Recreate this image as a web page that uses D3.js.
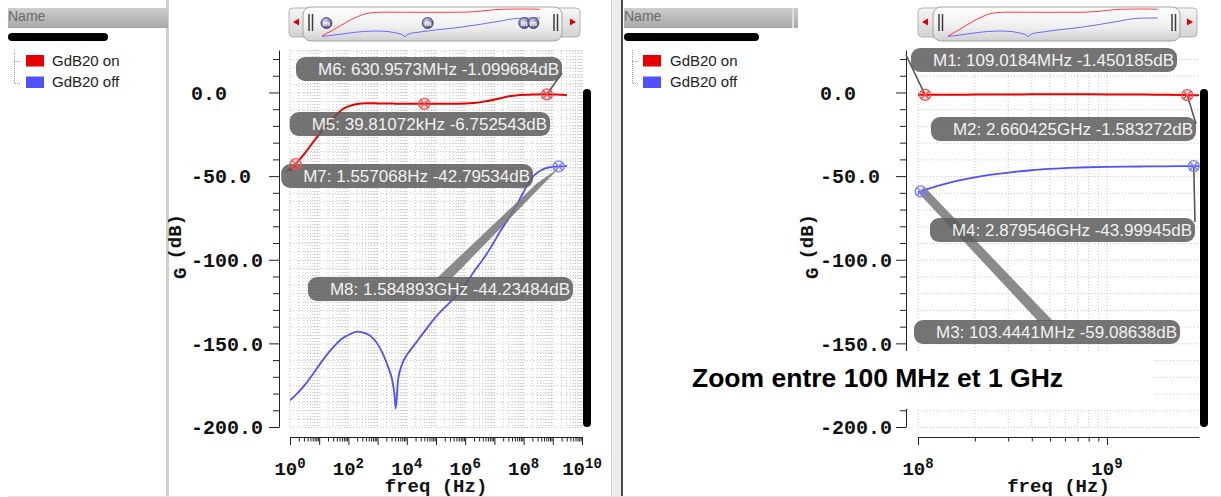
<!DOCTYPE html>
<html><head><meta charset="utf-8">
<script src="https://cdn.jsdelivr.net/npm/d3@7"></script>
<style>
html,body{margin:0;padding:0;background:#fff;}
svg{display:block;}
</style>
</head><body>
<svg id="c" width="1221" height="497"></svg>
<script>
// ---------------- DATA ----------------
const freqHz = [1, 1.557, 3.16, 6.31, 10, 20, 31.6, 63.1, 100, 200, 398, 794, 1585, 2512, 3162, 3800, 4169, 5012, 7079,
  1e4, 2e4, 3.981e4, 1e5, 3.162e5, 1e6, 2e6, 3.98e6, 7.94e6, 1.585e7, 3.162e7, 6.31e7,
  1e8, 1.034e8, 1.09e8, 1.26e8, 1.585e8, 2e8, 2.512e8, 3.162e8, 3.98e8, 5.01e8, 6.31e8, 7.94e8,
  1e9, 1.259e9, 1.585e9, 2e9, 2.512e9, 2.66e9, 2.88e9, 3.07e9];
const gainOn = [-47, -42.8, -36.5, -29.5, -25, -18.5, -15, -10, -8.3, -6.9, -6.5, -6.5, -6.6, -6.6, -6.6, -6.7, -6.7, -6.7, -6.7,
  -6.7, -6.75, -6.75, -6.7, -6.7, -6.6, -6.3, -5.6, -4.7, -3.5, -2.3, -1.6,
  -1.42, -1.43, -1.45, -1.40, -1.32, -1.25, -1.2, -1.15, -1.12, -1.1, -1.1, -1.12,
  -1.15, -1.2, -1.28, -1.38, -1.52, -1.58, -1.63, -1.68];
const gainOff = [-184, -181, -175, -168, -163, -156, -152, -147, -145, -143, -144, -148, -157, -166, -172, -181, -189, -172, -162,
  -157, -150, -143, -134, -125, -115, -107, -100, -92, -83, -75, -66,
  -59.5, -59.09, -58.2, -56, -53, -50.8, -49, -47.6, -46.5, -45.7, -45.1, -44.7,
  -44.5, -44.35, -44.23, -44.15, -44.05, -44.02, -44.0, -43.98];
const seriesNames = ["GdB20 on", "GdB20 off"];
const seriesColors = ["#e60000", "#5050ff"];
const markerColors = ["#ff4a4a", "#7c7cff"];

const markerNames  = ["M1", "M2", "M3", "M4", "M5", "M6", "M7", "M8"];
const markerFreq   = [109.0184e6, 2.660425e9, 103.4441e6, 2.879546e9, 39.81072e3, 630.9573e6, 1.557068, 1.584893e9];
const markerGain   = [-1.450185, -1.583272, -59.08638, -43.99945, -6.752543, -1.099684, -42.79534, -44.23484];
const markerSeries = [0, 0, 1, 1, 0, 0, 0, 1];
const markerText   = ["M1: 109.0184MHz -1.450185dB", "M2: 2.660425GHz -1.583272dB", "M3: 103.4441MHz -59.08638dB",
  "M4: 2.879546GHz -43.99945dB", "M5: 39.81072kHz -6.752543dB", "M6: 630.9573MHz -1.099684dB",
  "M7: 1.557068Hz -42.79534dB", "M8: 1.584893GHz -44.23484dB"];

const yTickValues = [0, -50, -100, -150, -200];
const yTickLabels = ["0.0", "-50.0", "-100.0", "-150.0", "-200.0"];
const xExpLeft = [0, 2, 4, 6, 8, 10];
const xExpRight = [8, 9];
const xTitle = "freq (Hz)";
const yTitle = ["G", "(dB)"];
const annotation = "Zoom entre 100 MHz et 1 GHz";

// ---------------- LAYOUT ----------------
const MONO = "'Liberation Mono','DejaVu Sans Mono',monospace";
const SANS = "'Liberation Sans',Arial,sans-serif";
const svg = d3.select("#c");
const defs = svg.append("defs");
function vgrad(id, stops) {
  const g = defs.append("linearGradient").attr("id", id).attr("x1", 0).attr("y1", 0).attr("x2", 0).attr("y2", 1);
  stops.forEach(s => g.append("stop").attr("offset", s[0]).attr("stop-color", s[1]));
}
vgrad("hdr", [["0%", "#cdcdcd"], ["100%", "#a8a8a8"]]);
vgrad("ovBody", [["0%", "#f6f6f6"], ["100%", "#d2d2d2"]]);
vgrad("ovThumb", [["0%", "#ffffff"], ["60%", "#eeeeee"], ["100%", "#cfcfcf"]]);
const rg = defs.append("radialGradient").attr("id", "ball").attr("cx", "40%").attr("cy", "35%").attr("r", "65%");
rg.append("stop").attr("offset", "0%").attr("stop-color", "#d8d8f0");
rg.append("stop").attr("offset", "100%").attr("stop-color", "#50508a");

const yScale = d3.scaleLinear().domain([-200, 25.4]).range([427, 50]);
const plotTop = 50, plotBot = 428;

const labelLayout = { // box right edge, box top (px)
  M1: [1177, 48], M2: [1196, 117], M3: [1180, 320], M4: [1195, 218],
  M5: [550, 112], M6: [562, 57], M7: [533, 164], M8: [573, 277]
};

const panels = [
  { domain: [1, 1e10], x0: 290, x1: 582, yAxisX: 279, labelX: 191, gridStep: 5, gridMax: 1e10, exps: xExpLeft,
    ylabX: 186, barX: 583, hdrX: 8, hdrW: 160, swX: 26, txtX: 52, treeX: 14, blackW: 100, balls: true,
    ov: { x0: 289, x1: 580, th0: 303, th1: 562, m0: 322, m1: 540, g1: 309, g2: 554 }, markers: [4, 5, 6, 7] },
  { domain: [1e8, 3.07e9], x0: 918, x1: 1199, yAxisX: 906, labelX: 820, gridStep: 10, gridMax: 1e9, exps: xExpRight,
    ylabX: 818, barX: 1200, hdrX: 624, hdrW: 168, swX: 643, txtX: 670, treeX: 632, blackW: 135, balls: false,
    ov: { x0: 918, x1: 1197, th0: 933, th1: 1180, m0: 948, m1: 1158, g1: 939, g2: 1172 }, markers: [0, 1, 2, 3] }
];

const dataOn = freqHz.map((f, i) => ({ f, g: gainOn[i] }));
const dataOff = freqHz.map((f, i) => ({ f, g: gainOff[i] }));
const isPow10 = d => Math.abs(Math.log10(d) - Math.round(Math.log10(d))) < 1e-9;

// frames / separators
svg.append("rect").attr("x", 166).attr("y", 0).attr("width", 3).attr("height", 497).attr("fill", "#cfcfcf");
svg.append("rect").attr("x", 611).attr("y", 0).attr("width", 10).attr("height", 497).attr("fill", "#ededed");
svg.append("line").attr("x1", 611.5).attr("x2", 611.5).attr("y1", 0).attr("y2", 497).attr("stroke", "#d4d4d4");
svg.append("rect").attr("x", 621).attr("y", 0).attr("width", 2).attr("height", 497).attr("fill", "#4a4a4a");
svg.append("line").attr("x1", 8).attr("x2", 1221).attr("y1", 496.5).attr("y2", 496.5).attr("stroke", "#e2e2e2");

panels.forEach((p, pi) => {
  const g = svg.append("g");
  // ---- name panel ----
  g.append("rect").attr("x", p.hdrX).attr("y", 8).attr("width", p.hdrW).attr("height", 20).attr("fill", "url(#hdr)");
  if (pi === 1) {
    g.append("rect").attr("x", p.hdrX + p.hdrW).attr("y", 8).attr("width", 2).attr("height", 20).attr("fill", "#e0e0e0");
    g.append("rect").attr("x", p.hdrX + p.hdrW + 2).attr("y", 8).attr("width", 4).attr("height", 20).attr("fill", "url(#hdr)");
  }
  g.append("text").attr("x", p.hdrX).attr("y", 21).attr("font-family", SANS).attr("font-size", 14)
    .attr("fill", "#6a6a6a").text("Name");
  g.append("rect").attr("x", p.hdrX).attr("y", 33).attr("width", p.blackW).attr("height", 8).attr("rx", 4).attr("fill", "#000");
  g.append("path").attr("d", `M${p.treeX + 0.5},50 V83.5 H${p.treeX + 7} M${p.treeX + 0.5},61.5 H${p.treeX + 7}`)
    .attr("fill", "none").attr("stroke", "#9a9a9a").attr("stroke-dasharray", "1,1");
  seriesNames.forEach((n, i) => {
    g.append("rect").attr("x", p.swX).attr("y", 55 + i * 21.5).attr("width", 18).attr("height", 11.5).attr("fill", seriesColors[i]);
    g.append("text").attr("x", p.txtX).attr("y", 65.5 + i * 21.5).attr("font-family", SANS).attr("font-size", 15)
      .attr("fill", "#222").text(n);
  });

  // ---- overview widget ----
  const o = p.ov;
  g.append("rect").attr("x", o.x0).attr("y", 8).attr("width", o.x1 - o.x0).attr("height", 29).attr("rx", 4)
    .attr("fill", "url(#ovBody)").attr("stroke", "#b4b4b4");
  g.append("rect").attr("x", o.th0).attr("y", 7).attr("width", o.th1 - o.th0).attr("height", 34).attr("rx", 8)
    .attr("fill", "url(#ovThumb)").attr("stroke", "#a4a4a4");
  [o.g1, o.g2].forEach(gx => [0, 3.5].forEach(d =>
    g.append("line").attr("x1", gx + d).attr("x2", gx + d).attr("y1", 14).attr("y2", 31)
      .attr("stroke", "#3c3c3c").attr("stroke-width", 1.5)));
  g.append("path").attr("d", `M${o.x0 + 4},22 l6,-3.5 v7 z`).attr("fill", "#e00000");
  g.append("path").attr("d", `M${o.x1 - 4},22 l-6,-3.5 v7 z`).attr("fill", "#e00000");
  const mx = d3.scaleLog().domain(d3.extent(freqHz)).range([o.m0, o.m1]);
  const myOn = d3.scaleLinear().domain(d3.extent(gainOn)).range([36, 9]);
  const myOff = d3.scaleLinear().domain(d3.extent(gainOff)).range([37, 18]);
  g.append("path").datum(dataOn).attr("fill", "none").attr("stroke", "#ff3a3a").attr("stroke-width", 1)
    .attr("d", d3.line().x(d => mx(d.f)).y(d => myOn(d.g)));
  g.append("path").datum(dataOff).attr("fill", "none").attr("stroke", "#6a6aff").attr("stroke-width", 1)
    .attr("d", d3.line().x(d => mx(d.f)).y(d => myOff(d.g)));
  if (p.balls) {
    p.markers.forEach(mi => {
      const bx = mx(markerFreq[mi]);
      g.append("circle").attr("cx", bx).attr("cy", 23).attr("r", 5.5).attr("fill", "url(#ball)").attr("stroke", "#3a3a5a").attr("stroke-width", 0.8);
      g.append("text").attr("x", bx).attr("y", 26).attr("text-anchor", "middle").attr("font-family", SANS)
        .attr("font-size", 8).attr("font-weight", "bold").attr("fill", "#fff").text("m");
    });
  }

  // ---- plot ----
  const x = d3.scaleLog().domain(p.domain).range([p.x0, p.x1]);
  const gridV = x.ticks(20).filter(v => v <= p.gridMax * 1.0001);
  const gg = g.append("g").attr("stroke", "#c6c6c6").attr("stroke-dasharray", "1,2");
  gg.selectAll("line.v").data(gridV).join("line").attr("class", "v")
    .attr("x1", d => x(d)).attr("x2", d => x(d)).attr("y1", plotTop).attr("y2", plotBot);
  gg.selectAll("line.h").data(d3.range(-200, 26, p.gridStep)).join("line").attr("class", "h")
    .attr("x1", p.x0).attr("x2", p.x1).attr("y1", d => yScale(d) + 0.5).attr("y2", d => yScale(d) + 0.5);

  // y axis
  const ya = g.append("g").attr("transform", `translate(${p.yAxisX},0)`)
    .call(d3.axisLeft(yScale).tickValues(d3.range(-200, 21, 10)).tickSize(6).tickSizeOuter(0).tickFormat(""));
  ya.selectAll(".tick line").attr("x2", d => d % 50 === 0 ? -10 : -6).attr("stroke", "#222");
  ya.select(".domain").attr("stroke", "#222");
  g.selectAll(null).data(yTickValues).join("text").attr("x", p.labelX).attr("y", d => yScale(d)).attr("dy", "0.36em")
    .attr("font-family", MONO).attr("font-weight", "bold").attr("font-size", 20).attr("fill", "#111")
    .text((d, i) => yTickLabels[i]);
  const yt = g.append("text").attr("transform", `translate(${p.ylabX},279) rotate(-90)`)
    .attr("font-family", MONO).attr("font-weight", "bold").attr("font-size", 19).attr("fill", "#111");
  yt.append("tspan").text(yTitle[0]);
  yt.append("tspan").attr("dy", -5).attr("dx", 8).text(yTitle[1]);

  // x axis
  const xa = g.append("g").attr("transform", "translate(0,437)")
    .call(d3.axisBottom(x).tickValues(gridV).tickSize(4).tickSizeOuter(0).tickFormat(""));
  xa.selectAll(".tick line").attr("y2", d => isPow10(d) ? 8 : 4.5).attr("stroke", "#222");
  xa.select(".domain").attr("stroke", "#222");
  const xl = g.selectAll(null).data(p.exps).join("text").attr("x", d => x(Math.pow(10, d))).attr("y", 475)
    .attr("text-anchor", "middle").attr("font-family", MONO).attr("font-weight", "bold").attr("font-size", 19).attr("fill", "#111");
  xl.append("tspan").text("10");
  xl.append("tspan").attr("dy", -7).attr("font-size", 14).text(d => d);
  g.append("text").attr("x", (p.x0 + p.x1) / 2).attr("y", 492).attr("text-anchor", "middle")
    .attr("font-family", MONO).attr("font-weight", "bold").attr("font-size", 19).attr("fill", "#111").text(xTitle);

  // curves
  const clipId = "clip" + pi;
  defs.append("clipPath").attr("id", clipId).append("rect").attr("x", p.x0).attr("y", 40)
    .attr("width", p.x1 - p.x0 + 1).attr("height", 400);
  const line = d3.line().x(d => x(d.f)).y(d => yScale(d.g)).curve(d3.curveMonotoneX);
  const cg = g.append("g").attr("clip-path", `url(#${clipId})`);
  cg.append("path").datum(dataOff).attr("fill", "none").attr("stroke", seriesColors[1]).attr("stroke-width", 1.8).attr("d", line);
  cg.append("path").datum(dataOn).attr("fill", "none").attr("stroke", seriesColors[0]).attr("stroke-width", 2).attr("d", line);

  // marker leaders, boxes, symbols
  const ag = g.append("g");
  p.markers.forEach(mi => {
    const name = markerNames[mi];
    const mxp = x(markerFreq[mi]), myp = yScale(markerGain[mi]);
    const [br, bt] = labelLayout[name];
    if (name === "M8") {
      ag.append("path").attr("d", `M${br - 136},${bt + 1} L${br - 121},${bt + 1} L${mxp + 1},${myp + 1} L${mxp - 22},${myp + 17} Z`)
        .attr("fill", "#777").attr("opacity", 0.85);
    } else if (name === "M3") {
      ag.append("path").attr("d", `M${br - 142},${bt + 1} L${br - 127},${bt + 1} L${mxp + 5},${myp - 3} L${mxp - 2},${myp + 2} Z`)
        .attr("fill", "#777").attr("opacity", 0.85);
    } else if (name !== "M5") {
      const ends = { M1: [906, 55], M2: [br, bt + 7], M4: [br, bt + 4], M6: [br, bt + 16], M7: [br - 247, bt + 8] }[name];
      ag.append("line").attr("x1", ends[0]).attr("y1", ends[1]).attr("x2", mxp).attr("y2", myp)
        .attr("stroke", "#555").attr("stroke-width", 1.6);
    }
  });
  p.markers.forEach(mi => {
    const [br, bt] = labelLayout[markerNames[mi]];
    const bg = ag.append("g");
    const rect = bg.append("rect").attr("y", bt).attr("height", 24).attr("rx", 9).attr("fill", "#5c5c5c").attr("opacity", 0.85);
    const t = bg.append("text").attr("x", br - 3).attr("y", bt + 18).attr("text-anchor", "end")
      .attr("font-family", SANS).attr("font-size", 17).attr("fill", "#f2f2f2").text(markerText[mi]);
    const len = t.node().getComputedTextLength();
    rect.attr("x", br - len - 25).attr("width", len + 25);
  });
  p.markers.forEach(mi => {
    const mxp = x(markerFreq[mi]), myp = yScale(markerGain[mi]);
    const c = markerColors[markerSeries[mi]];
    const s = ag.append("g").attr("transform", `translate(${mxp},${myp})`).attr("stroke", c).attr("stroke-width", 1.3);
    s.append("circle").attr("r", 5.5).attr("fill", c).attr("fill-opacity", 0.12);
    s.append("path").attr("d", "M-3.9,-3.9L3.9,3.9M-3.9,3.9L3.9,-3.9").attr("fill", "none");
  });

  // black bar
  g.append("rect").attr("x", p.barX).attr("y", 89).attr("width", 8).attr("height", 338).attr("rx", 4).attr("fill", "#000");
});

// annotation overlay
svg.append("rect").attr("x", 686).attr("y", 351).attr("width", 469).attr("height", 58).attr("fill", "#fff");
svg.append("text").attr("x", 692).attr("y", 387).attr("font-family", SANS).attr("font-weight", "bold")
  .attr("font-size", 26.5).attr("fill", "#000").text(annotation);
</script>
</body></html>
